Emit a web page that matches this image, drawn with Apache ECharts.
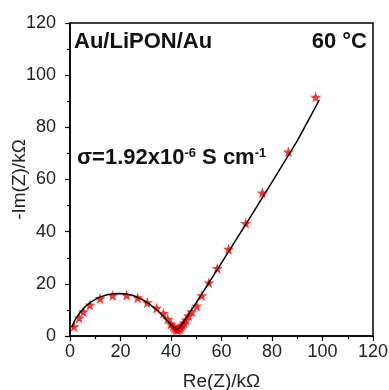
<!DOCTYPE html>
<html>
<head>
<meta charset="utf-8">
<script src="https://cdn.jsdelivr.net/npm/echarts@6/dist/echarts.min.js"></script>
<style>
  html, body { margin: 0; padding: 0; background: #fff; }
  #chart { width: 389px; height: 390px; }
</style>
</head>
<body>
<div id="chart"></div>
<script>
// measured impedance points (Re, -Im) in kOhm
const measRe = [1.6, 3.6, 5.3, 7.9, 11.9, 16.9, 22.4, 26.8, 30.6, 34.3, 37.0, 38.7, 40.0, 40.8,
  41.4, 42.0, 42.5, 43.0, 43.5, 44.0, 44.6, 45.2, 46.0, 47.0, 48.2, 50.2, 52.2, 55.0, 58.3,
  62.8, 69.6, 76.2, 86.5, 97.3];
const measIm = [3.6, 6.9, 9.3, 11.9, 14.4, 15.5, 15.6, 14.7, 12.8, 10.7, 8.7, 6.5, 4.6, 3.6,
  3.0, 2.6, 2.3, 2.5, 2.9, 3.5, 4.2, 5.0, 6.2, 7.8, 9.3, 11.5, 15.5, 20.4, 25.9,
  33.3, 43.2, 54.9, 70.6, 91.6];

// fitted curve
const fitRe = [0.7, 1.5, 2.5, 4, 6, 8.5, 11.5, 15, 18.5, 22, 25.5, 29, 32, 35, 37.5, 39.5,
  41, 42.3, 43.5, 45, 47, 50, 55, 60, 70, 80, 90, 98.7];
const fitIm = [3.4, 5.2, 7.0, 9.0, 11.2, 13.2, 14.8, 15.9, 16.3, 16.2, 15.4, 13.8, 11.9, 9.5,
  7.0, 4.9, 3.4, 2.4, 3.4, 5.4, 8.4, 12.8, 20.4, 28.0, 43.4, 59.0, 74.8, 90.4];

const xTicks = [0, 20, 40, 60, 80, 100, 120];
const yTicks = [0, 20, 40, 60, 80, 100, 120];

const star = "path://M0,-10L2.35,-3.24L9.51,-3.09L3.8,1.24L5.88,8.09L0,4L-5.88,8.09L-3.8,1.24L-9.51,-3.09L-2.35,-3.24Z";
const font = "'Liberation Sans', Arial, sans-serif";

const chart = echarts.init(document.getElementById("chart"));

const axisCommon = {
  type: "value",
  min: 0,
  max: 120,
  interval: 20,
  nameLocation: "middle",
  nameMoveOverlap: false,
  nameTextStyle: { color: "#222", fontSize: 19, fontFamily: font },
  axisLine: { show: true, lineStyle: { color: "#000", width: 1.5 } },
  axisTick: { show: true, inside: false, length: 5, lineStyle: { color: "#000", width: 1.2 } },
  minorTick: { show: true, splitNumber: 2, length: 3, lineStyle: { color: "#000", width: 1.2 } },
  splitLine: { show: false },
  axisLabel: { color: "#222", fontSize: 18, fontFamily: font },
};

chart.setOption({
  animation: false,
  backgroundColor: "#fff",
  grid: {
    left: 70, right: 16, top: 23, bottom: 54,
    outerBoundsMode: "none",
    containLabel: false,
    show: true, borderColor: "#000", borderWidth: 1.5,
  },
  xAxis: Object.assign({}, axisCommon, {
    name: "Re(Z)/k\u03A9",
    nameGap: 36,
    axisLabel: Object.assign({}, axisCommon.axisLabel, {
      margin: 7,
      formatter: v => (xTicks.includes(v) ? String(v) : ""),
    }),
  }),
  yAxis: Object.assign({}, axisCommon, {
    name: "-Im(Z)/k\u03A9",
    nameGap: 41,
    axisLabel: Object.assign({}, axisCommon.axisLabel, {
      margin: 14,
      formatter: v => (yTicks.includes(v) ? String(v) : ""),
    }),
  }),
  series: [
    {
      type: "scatter",
      data: measRe.map((x, i) => [x, measIm[i]]),
      symbol: star,
      symbolSize: 11,
      itemStyle: { color: "#ff0000" },
      z: 2,
    },
    {
      type: "line",
      data: fitRe.map((x, i) => [x, fitIm[i]]),
      showSymbol: false,
      symbol: "none",
      smooth: false,
      lineStyle: { color: "#000", width: 1.5 },
      z: 3,
    },
  ],
  graphic: [
    {
      type: "text",
      left: 74, top: 31,
      style: { text: "Au/LiPON/Au", font: "bold 22px " + font, fill: "#111" },
    },
    {
      type: "text",
      right: 22, top: 31,
      style: { text: "60 \u00B0C", font: "bold 22px " + font, fill: "#111" },
    },
    {
      type: "text",
      left: 77, top: 147,
      style: {
        text: "{b|\u03C3=1.92x10}{s|-6}{b| S cm}{s|-1}",
        rich: {
          b: { font: "bold 22px " + font, fill: "#111", lineHeight: 26, verticalAlign: "bottom" },
          s: { font: "bold 13px " + font, fill: "#111", padding: [0, 0, 9, 0], verticalAlign: "bottom" },
        },
      },
    },
  ],
});
</script>
</body>
</html>
